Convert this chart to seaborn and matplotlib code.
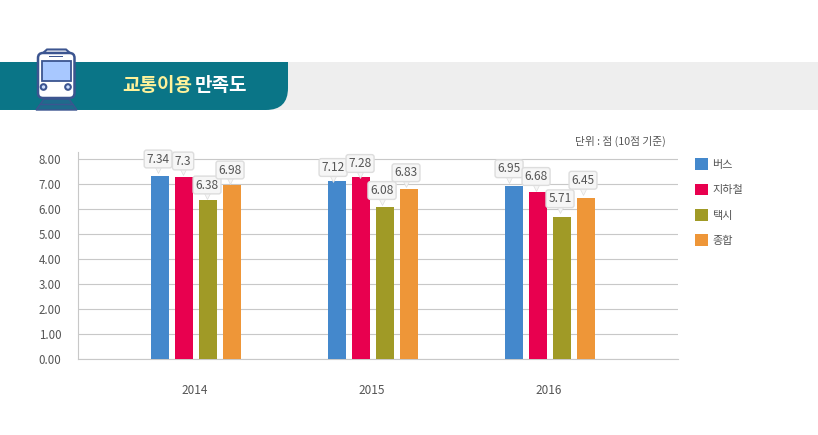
import matplotlib
matplotlib.use("Agg")
import matplotlib.pyplot as plt
from matplotlib.path import Path
from matplotlib.patches import PathPatch, Rectangle, FancyBboxPatch, Circle, Polygon
from matplotlib.transforms import ScaledTranslation
import pandas as pd
import seaborn as sns

years = ["2014", "2015", "2016"]
series_names = ["버스", "지하철", "택시", "종합"]
bus = [7.34, 7.12, 6.95]
subway = [7.3, 7.28, 6.68]
taxi = [6.38, 6.08, 5.71]
overall = [6.98, 6.83, 6.45]
value_labels = [["7.34", "7.12", "6.95"], ["7.3", "7.28", "6.68"],
                ["6.38", "6.08", "5.71"], ["6.98", "6.83", "6.45"]]
label_offsets = [[(-2, 17), (-4, 14), (-5, 17)], [(-1, 16), (-1, 14), (-2, 16)],
                 [(-1, 15), (-3, 17), (-2, 18)], [(-2, 15), (-3, 16), (-3, 18)]]
colors = ["#4488cc", "#e8004f", "#a09a26", "#ee9638"]
title_a = "교통이용"
title_b = "만족도"
unit_text = "단위 : 점 (10점 기준)"

sns.set_theme(style="white")
plt.rcParams["font.family"] = ["Noto Sans CJK KR", "DejaVu Sans"]
W, H = 818, 435
TXT = "#555555"
fig = plt.figure(figsize=((W + 0.01) / 100, (H + 0.01) / 100), dpi=100, facecolor="white")

bg = fig.add_axes([0, 0, 1, 1], zorder=0)
bg.set_xlim(0, W); bg.set_ylim(H, 0); bg.axis("off")
bg.add_patch(Rectangle((260, 62), W - 260, 48, fc="#eeeeee", ec="none"))
r = 22
verts = [(0, 62), (288, 62), (288, 110 - r), (288, 110), (288 - r, 110), (0, 110), (0, 62)]
codes = [Path.MOVETO, Path.LINETO, Path.LINETO, Path.CURVE3, Path.CURVE3, Path.LINETO, Path.CLOSEPOLY]
bg.add_patch(PathPatch(Path(verts, codes), fc="#0a7587", ec="none"))

navy = "#3c5590"
bg.add_patch(Polygon([(44, 99), (69, 99), (77, 110), (36, 110)], fc="#1f6a8c", ec=navy, lw=1))
bg.plot([40, 73], [104, 104], color=navy, lw=1)
bg.add_patch(Polygon([(43, 53), (47, 49.5), (66, 49.5), (70, 53)], fc="white", ec=navy, lw=1.5))
bg.add_patch(FancyBboxPatch((38, 53), 36.5, 45, boxstyle="round,pad=0,rounding_size=5",
                            fc="white", ec=navy, lw=1.8))
bg.add_patch(Rectangle((49, 56), 14, 1.5, fc=navy, ec="none"))
bg.add_patch(Rectangle((42, 61), 29, 20, fc="#a8c8ff", ec=navy, lw=1.3))
for cx in (43.5, 68):
    bg.add_patch(Circle((cx, 87), 2.8, fc="#cfe0ff", ec=navy, lw=1.5))

bg.text(122, 85, title_a, color="#fff29a", fontsize=13.7, fontweight="bold", va="center", ha="left")
bg.text(195, 85, title_b, color="white", fontsize=13.7, fontweight="bold", va="center", ha="left")
bg.text(666, 141.5, unit_text, color=TXT, fontsize=7.7, va="center", ha="right")

df = pd.DataFrame({"year": years * 4,
                   "series": [n for n in series_names for _ in years],
                   "value": bus + subway + taxi + overall})
ax = fig.add_axes([78 / W, (H - 359.5) / H, 600 / W, 207 / H], zorder=1)
ax.patch.set_alpha(0)
sns.barplot(data=df, x="year", y="value", hue="series", palette=colors, width=0.542,
            gap=0.25, saturation=1, linewidth=0, ax=ax, zorder=3)
ax.set_xlim(-0.667, 2.723)
ax.set_ylim(0, 8.28)
ax.set_yticks(range(9))
ax.set_yticklabels([f"{v:.2f}" for v in range(9)])
ax.set_xlabel(""); ax.set_ylabel("")
ax.yaxis.grid(True, color="#c8c8c8", lw=0.8, zorder=0)
ax.xaxis.grid(False)
ax.set_axisbelow(True)
for s in ("top", "right"):
    ax.spines[s].set_visible(False)
for s in ("left", "bottom"):
    ax.spines[s].set_color("#c8c8c8"); ax.spines[s].set_linewidth(0.8)
ax.tick_params(axis="y", length=0, pad=12, labelsize=8.3, labelcolor=TXT)
ax.tick_params(axis="x", length=0, pad=17.5, labelsize=8.5, labelcolor=TXT)
ax.set_xticks(range(3))
ax.set_xticklabels(years)
shift = ScaledTranslation(-1.5 / 100, 0, fig.dpi_scale_trans)
for t in ax.get_xticklabels():
    t.set_transform(t.get_transform() + shift)
yshift = ScaledTranslation(0, 0.7 / 100, fig.dpi_scale_trans)
for t in ax.get_yticklabels():
    t.set_transform(t.get_transform() + yshift)

PX_Y = 8.28 / 207
PX_X = (2.723 + 0.667) / 600
for i, cont in enumerate(ax.containers):
    for j, bar in enumerate(cont):
        dx, dy = label_offsets[i][j]
        xc = bar.get_x() + bar.get_width() / 2
        top = bar.get_height()
        ax.annotate(value_labels[i][j], (xc, top), xytext=(dx * 0.72, dy * 0.72),
                    textcoords="offset points", ha="center", va="center", fontsize=8.6,
                    color=TXT, zorder=6, annotation_clip=False,
                    bbox=dict(boxstyle="round,pad=0.2,rounding_size=0.2", fc="#f6f6f6",
                              ec="#dddddd", lw=1))
        ax.plot([xc + dx * PX_X], [top + (dy - 10.5) * PX_Y], marker="v", ms=5.5,
                color="#f6f6f6", mec="#dddddd", mew=0.5, zorder=5.5, clip_on=False)

handles, labels = ax.get_legend_handles_labels()
ax.legend(handles, labels, loc="upper left", bbox_to_anchor=(617 / 600, 1 - 6 / 207), frameon=False,
          handlelength=1.2, handleheight=1.2, handletextpad=0.35, labelspacing=1.25,
          fontsize=8, labelcolor=TXT, borderpad=0, borderaxespad=0)

fig.savefig("out.png", dpi=100, facecolor="white")
